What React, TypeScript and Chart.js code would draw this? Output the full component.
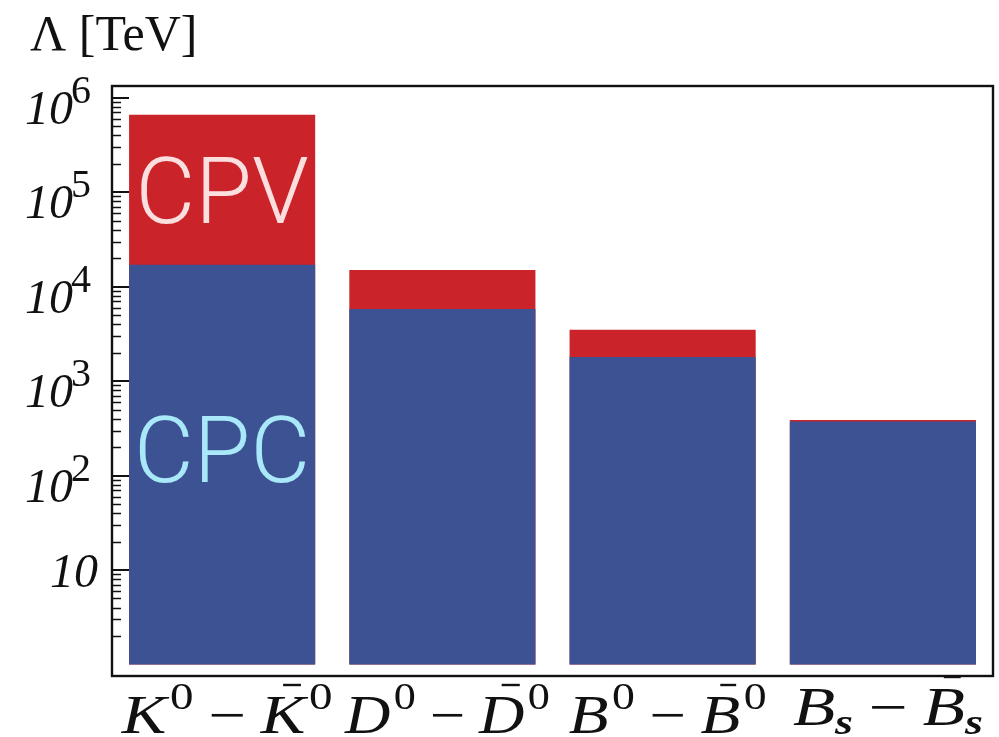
import React, { useEffect, useRef } from "react";
import { Chart, registerables } from "chart.js";

Chart.register(...registerables);

// ---- data ----
const categories = ["K⁰ − K̄⁰", "D⁰ − D̄⁰", "B⁰ − B̄⁰", "Bₛ − B̄ₛ"];
const cpcValues = [1.7e4, 5.8e3, 1.8e3, 373];
const cpvValues = [6.6e5, 1.5e4, 3.5e3, 388];
const barBase = 1;
const yMin = 0.756;
const yMax = 1.33e6;
const yMajorTicks = [10, 100, 1e3, 1e4, 1e5, 1e6];
const yMajorExponents = ["1", "2", "3", "4", "5", "6"];
const yMinorDecades = [1, 10, 100, 1e3, 1e4, 1e5];
const yMinorMultipliers = [2, 3, 4, 5, 6, 7, 8, 9];
const yAxisTitle = "Λ [TeV]";

type Part = { t: string; s: "it" | "sup" | "sub" | "op"; bar?: boolean };
const xLabelParts: Part[][] = [
  [{ t: "K", s: "it" }, { t: "0", s: "sup" }, { t: "−", s: "op" }, { t: "K", s: "it", bar: true }, { t: "0", s: "sup" }],
  [{ t: "D", s: "it" }, { t: "0", s: "sup" }, { t: "−", s: "op" }, { t: "D", s: "it", bar: true }, { t: "0", s: "sup" }],
  [{ t: "B", s: "it" }, { t: "0", s: "sup" }, { t: "−", s: "op" }, { t: "B", s: "it", bar: true }, { t: "0", s: "sup" }],
  [{ t: "B", s: "it" }, { t: "s", s: "sub" }, { t: "−", s: "op" }, { t: "B", s: "it", bar: true }, { t: "s", s: "sub" }],
];
const xLabelWidths = [211, 205, 198, 190];

const annotationTexts = ["CPV", "CPC"];
const annotationValues = [4.7e4, 85];
const annotationCategory = [0, 0];
const annotationColors = ["#fbdede", "#a9e8f8"];

const RED = "#cb232a";
const BLUE = "#3c5293";
const SERIF = '"Liberation Serif", "Times New Roman", serif';
const SANS = 'Roboto, "Open Sans", Lato, sans-serif';

function partFont(s: Part["s"]) {
  switch (s) {
    case "it":
      return `italic 54px ${SERIF}`;
    case "sup":
      return `38px ${SERIF}`;
    case "sub":
      return `italic bold 36px ${SERIF}`;
    default:
      return `54px ${SERIF}`;
  }
}

const overlay = {
  id: "overlay",
  afterDatasetsDraw(chart: any) {
    const ctx: CanvasRenderingContext2D = chart.ctx;
    const xs = chart.scales.x;
    const ys = chart.scales.y;
    ctx.save();
    annotationTexts.forEach((txt, i) => {
      ctx.font = `300 92px ${SANS}`;
      ctx.fillStyle = annotationColors[i];
      ctx.textAlign = "center";
      ctx.textBaseline = "alphabetic";
      const cx = xs.getPixelForValue(annotationCategory[i]);
      const cy = ys.getPixelForValue(annotationValues[i]);
      ctx.fillText(txt, cx, cy);
    });
    ctx.restore();
  },
  afterDraw(chart: any) {
    const ctx: CanvasRenderingContext2D = chart.ctx;
    const a = chart.chartArea;
    const xs = chart.scales.x;
    const ys = chart.scales.y;
    ctx.save();
    // frame
    ctx.strokeStyle = "#111";
    ctx.lineWidth = 2.4;
    ctx.strokeRect(a.left, a.top, a.right - a.left, a.bottom - a.top);

    // y ticks (inward)
    ctx.lineWidth = 2;
    ctx.beginPath();
    yMajorTicks.forEach((v) => {
      const y = Math.round(ys.getPixelForValue(v));
      ctx.moveTo(a.left, y);
      ctx.lineTo(a.left + 17, y);
    });
    ctx.stroke();
    ctx.lineWidth = 1.7;
    ctx.beginPath();
    yMinorDecades.forEach((d) => {
      yMinorMultipliers.forEach((m) => {
        const v = d * m;
        if (v < yMin || v > yMax) return;
        const y = Math.round(ys.getPixelForValue(v)) + 0.5;
        ctx.moveTo(a.left, y);
        ctx.lineTo(a.left + 9, y);
      });
    });
    ctx.stroke();

    // y labels
    ctx.fillStyle = "#111";
    ctx.textBaseline = "alphabetic";
    yMajorTicks.forEach((v, i) => {
      const y = ys.getPixelForValue(v);
      const e = yMajorExponents[i];
      if (e === "1") {
        ctx.font = `italic 48px ${SERIF}`;
        ctx.textAlign = "right";
        ctx.fillText("10", a.left - 14, y + 17);
      } else {
        ctx.font = `40px ${SERIF}`;
        ctx.textAlign = "right";
        const ex = a.left - 21;
        ctx.fillText(e, ex, y + 5);
        const ew = ctx.measureText(e).width;
        ctx.font = `italic 48px ${SERIF}`;
        ctx.fillText("10", ex - ew + 2, y + 26);
      }
    });

    // title
    ctx.font = `50px ${SERIF}`;
    ctx.textAlign = "left";
    ctx.fillText(yAxisTitle, 30, 50);

    // x labels (horizontally stretched math text)
    xLabelParts.forEach((parts, i) => {
      const cx = xs.getPixelForValue(i) + 5;
      const hasSub = parts.some((p) => p.s === "sub");
      const base = a.bottom + (hasSub ? 49 : 57);
      const gap = 12;
      const widths = parts.map((p) => {
        ctx.font = partFont(p.s);
        return ctx.measureText(p.t).width;
      });
      let total = 0;
      parts.forEach((p, k) => {
        if (p.s === "op") total += 2 * gap;
        if (p.s === "sup") total += 3;
        total += widths[k];
      });
      const sx = xLabelWidths[i] / total;
      ctx.save();
      ctx.translate(cx, 0);
      ctx.scale(sx, 1);
      let x = -total / 2;
      ctx.textAlign = "left";
      parts.forEach((p, k) => {
        ctx.font = partFont(p.s);
        if (p.s === "op") x += gap;
        if (p.s === "sup") x += 3;
        let dy = 0;
        if (p.s === "sup") dy = -24;
        if (p.s === "sub") dy = 9;
        ctx.fillText(p.t, x, base + dy);
        if (p.bar) {
          ctx.beginPath();
          ctx.lineWidth = 2.4;
          ctx.moveTo(x + widths[k] * 0.5, base - 48);
          ctx.lineTo(x + widths[k] * 0.9, base - 48);
          ctx.stroke();
        }
        x += widths[k];
        if (p.s === "op") x += gap;
      });
      ctx.restore();
    });
    ctx.restore();
  },
};

export default function App() {
  const ref = useRef<HTMLCanvasElement>(null);
  useEffect(() => {
    document.body.style.margin = "0";
    const canvas = ref.current!;
    const chart = new Chart(canvas, {
      type: "bar",
      data: {
        labels: categories,
        datasets: [
          {
            label: "CPC",
            data: cpcValues.map((v) => [barBase, v]) as any,
            backgroundColor: BLUE,
            borderWidth: 0,
            grouped: false,
            barPercentage: 0.845,
            categoryPercentage: 1,
          } as any,
          {
            label: "CPV",
            data: cpvValues.map((v) => [barBase, v]) as any,
            backgroundColor: RED,
            borderWidth: 0,
            grouped: false,
            barPercentage: 0.845,
            categoryPercentage: 1,
          } as any,
        ],
      },
      options: {
        responsive: false,
        animation: false,
        layout: { padding: { left: 112, right: 6, top: 86, bottom: 61 } },
        plugins: { legend: { display: false }, tooltip: { enabled: false } },
        scales: {
          x: { display: false },
          y: { type: "logarithmic", display: false, min: yMin, max: yMax },
        },
      },
      plugins: [overlay],
    });
    let alive = true;
    if ((document as any).fonts) {
      Promise.all([
        (document as any).fonts.load(`italic 54px ${SERIF}`),
        (document as any).fonts.load(`54px ${SERIF}`),
        (document as any).fonts.load(`300 92px ${SANS}`),
      ])
        .then(() => {
          if (alive) chart.update();
        })
        .catch(() => {});
    }
    return () => {
      alive = false;
      chart.destroy();
    };
  }, []);
  return (
    <div style={{ width: 999, height: 737 }}>
      <canvas ref={ref} width={999} height={737} style={{ display: "block" }} />
    </div>
  );
}
